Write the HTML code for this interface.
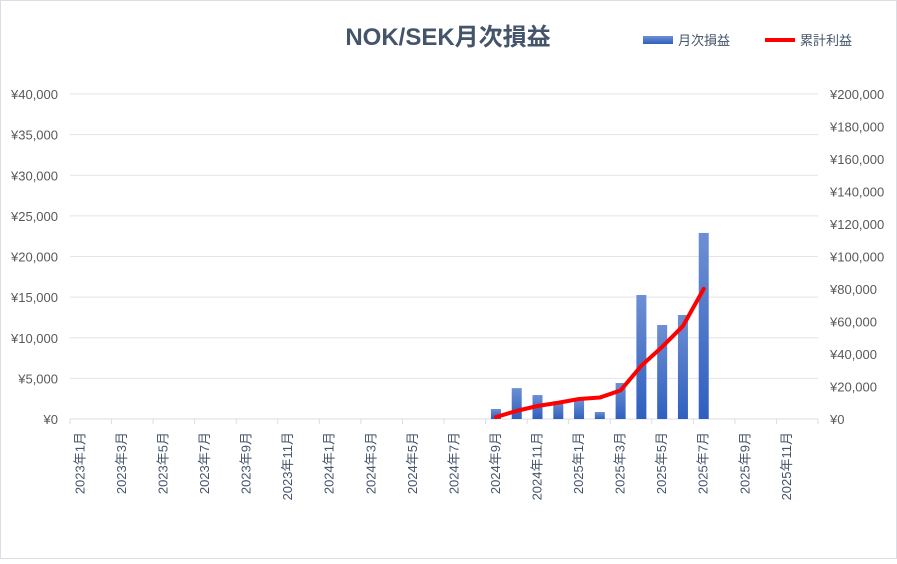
<!DOCTYPE html>
<html><head><meta charset="utf-8"><style>
body{margin:0;background:#fff}
svg text{font-family:"Liberation Sans","Noto Sans CJK JP",sans-serif}
</style></head><body>
<svg width="897" height="559" xmlns="http://www.w3.org/2000/svg">
<defs><linearGradient id="bg" x1="0" y1="0" x2="0" y2="1"><stop offset="0" stop-color="#6d8fd3"/><stop offset="1" stop-color="#2f5fbf"/></linearGradient></defs>
<rect x="0.5" y="0.5" width="896" height="558" fill="#fff" stroke="#d9dde6"/>
<text x="448" y="45" text-anchor="middle" font-size="24" font-weight="bold" fill="#44546a">NOK/SEK月次損益</text>
<g>
<rect x="643" y="36" width="30" height="8" fill="url(#bg)"/>
<text x="678" y="45" font-size="13" fill="#44546a">月次損益</text>
<line x1="765" y1="40" x2="795" y2="40" stroke="#f00" stroke-width="4"/>
<text x="800" y="45" font-size="13" fill="#44546a">累計利益</text>
</g>
<g id="grid"></g><g id="axes"></g><g id="bars"></g><g id="line"></g>
</svg>
<script>
const categories=[];for(let y=2023;y<=2025;y++)for(let m=1;m<=12;m++)categories.push(y+'年'+m+'月');
const monthly=[0,0,0,0,0,0,0,0,0,0,0,0,0,0,0,0,0,0,0,0,1230,3800,2950,2200,2300,860,4430,15260,11570,12800,22900,null,null,null,null,null];
const cumulative=[null,null,null,null,null,null,null,null,null,null,null,null,null,null,null,null,null,null,null,null,1200,5000,8000,10000,12300,13200,17600,32800,44400,57200,80100,null,null,null,null,null];
const leftTicks=[0,5000,10000,15000,20000,25000,30000,35000,40000];
const rightTicks=[0,20000,40000,60000,80000,100000,120000,140000,160000,180000,200000];
const NS='http://www.w3.org/2000/svg';
const X0=70,X1=818,Y0=419,Y1=94,slot=(X1-X0)/categories.length;
const xC=i=>X0+(i+0.5)*slot;
const yL=v=>Y0-(v/40000)*(Y0-Y1);
const yR=v=>Y0-(v/200000)*(Y0-Y1);
function mk(p,t,a){const e=document.createElementNS(NS,t);for(const k in a)e.setAttribute(k,a[k]);document.getElementById(p).appendChild(e);return e;}
const fmt=v=>'¥'+v.toLocaleString('en-US');
leftTicks.forEach(v=>{
 if(v>0){const g=mk('grid','line',{x1:X0,x2:X1,y1:yL(v),y2:yL(v),stroke:'#e1e4ea'});
 
 }
 const t=mk('axes','text',{x:58,y:yL(v)+5,'text-anchor':'end','font-size':13,fill:'#595959'});t.textContent=fmt(v);
 
 
});
rightTicks.forEach(v=>{
 const t=mk('axes','text',{x:830,y:yR(v)+5,'font-size':13,fill:'#595959'});t.textContent=fmt(v);
 
 
});
const ax=mk('axes','line',{x1:X0,x2:X1,y1:Y0,y2:Y0,stroke:'#d9dde4'});


for(let i=0;i<=categories.length;i+=2){const tk=mk('axes','line',{x1:X0+i*slot,x2:X0+i*slot,y1:Y0,y2:Y0+5,stroke:'#d9dde4'});
 
 }
categories.forEach((c,i)=>{if(i%2)return;
 const x=xC(i)+4,y=432;
 const t=mk('axes','text',{x:x,y:y,'text-anchor':'end','font-size':13,fill:'#44546a',transform:`rotate(-90 ${x} ${y})`});t.textContent=c;
 
 
});
monthly.forEach((v,i)=>{if(!v)return;
 const b=mk('bars','rect',{x:xC(i)-5,y:yL(v),width:10,height:Y0-yL(v),fill:'url(#bg)'});
 
 
});
const pts=[];cumulative.forEach((v,i)=>{if(v!==null)pts.push(xC(i)+','+yR(v));});
const pl=mk('line','polyline',{points:pts.join(' '),fill:'none',stroke:'#f00','stroke-width':4,'stroke-linejoin':'round','stroke-linecap':'round'});


</script>
</body></html>
